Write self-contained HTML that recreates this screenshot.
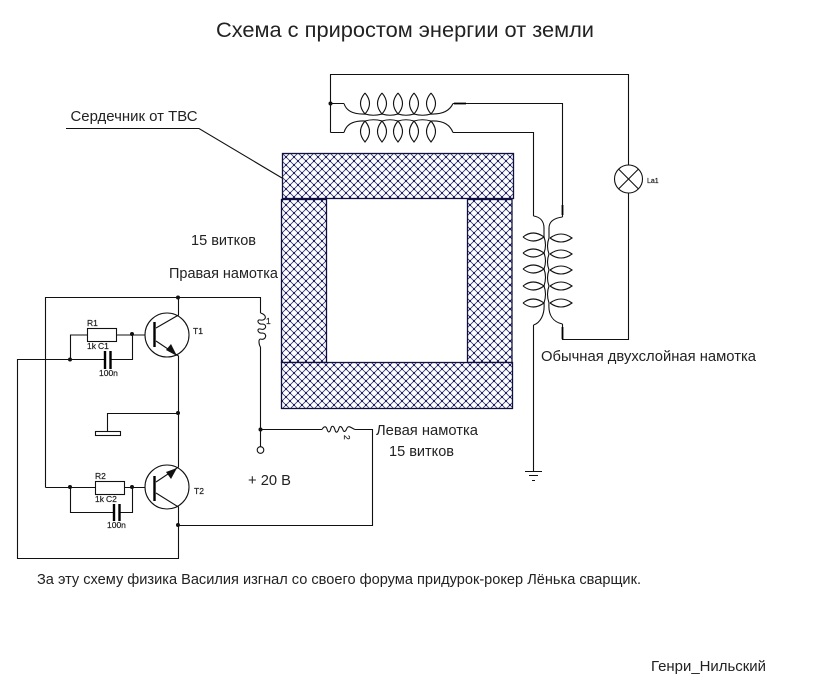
<!DOCTYPE html>
<html><head><meta charset="utf-8"><style>html,body{margin:0;padding:0;background:#fff}svg{display:block}text{font-family:"Liberation Sans",sans-serif;fill:#222}</style></head><body>
<svg xmlns="http://www.w3.org/2000/svg" width="827" height="691" viewBox="0 0 827 691">
<defs>
<pattern id="h" width="8" height="8" patternUnits="userSpaceOnUse" patternTransform="translate(282 153)">
<rect width="8" height="8" fill="#fff"/>
<path d="M0 0L8 8M8 0L0 8" stroke="#3a3a78" stroke-width="0.8"/>
<rect x="3.200" y="3.200" width="1.600" height="1.600" fill="#000050"/>
<rect x="-0.800" y="-0.800" width="1.600" height="1.600" fill="#000050"/><rect x="7.200" y="-0.800" width="1.600" height="1.600" fill="#000050"/><rect x="-0.800" y="7.200" width="1.600" height="1.600" fill="#000050"/><rect x="7.200" y="7.200" width="1.600" height="1.600" fill="#000050"/>
</pattern>
</defs>
<g fill="url(#h)" stroke="#101040" stroke-width="1.3">
<rect x="281.500" y="199.500" width="45" height="163"/>
<rect x="467.500" y="199.500" width="44.500" height="163"/>
<rect x="282.500" y="153.500" width="231" height="45"/>
<rect x="281.500" y="362.500" width="231" height="46"/>
</g>
<g fill="none" stroke="#111" stroke-width="1.1">
<path d="M66 128.500H199L282 178"/>
<path d="M45.500 487.500V297.500H260.500V313M260.500 347V446.500M260.500 429.500H322M355 429.500H372.500V525.500H178.500"/>
<path d="M178.500 297.500V315L156 328M156 341L178.500 356V467L156 482M156 493L178.500 507V558.500H17.500V359.500H104M111 359.500H132.500V335"/>
<path d="M145 335H117M87 335H70.500V359.500"/>
<path d="M145 487.500H124M95 487.500H45.500M70.500 487.500V512.500H113M119 512.500H132.500V487.500"/>
<circle cx="167" cy="335" r="22"/><circle cx="167" cy="487" r="22"/>
<path d="M178.500 413.500H107.500V431"/>
<rect x="95.500" y="431.500" width="25" height="4"/>
<rect x="87.500" y="328.500" width="29" height="13"/>
<rect x="95.500" y="481.500" width="29" height="13"/>
<circle cx="260.500" cy="450" r="3.300"/>
<path d="M260.500 313C268 315 266 321 260.500 320C256 319 258 325 262 324C268 324 266 331 260.500 329C256 328 258 334 262 333C268 333 266 341 260.500 339C258 339 259 345 260.500 347"/>
<path d="M322 429.500C324 426 326 426 327 429C328 433 330 433 331 428C332 425 334 426 335 430C336 434 338 432 339 428C340 425 342 427 343 430C344 433 346 431 347 428C349 425 351 428 355 429.500"/>
<path d="M330.500 132.500V74.500H628.500V165M628.500 193V339.500H562.500V324"/>
<circle cx="628.500" cy="179" r="14"/>
<path d="M618.500 169L638.500 189M638.500 169L618.500 189"/>
<path d="M330.500 103.500H344M453 103.500H562.500V217"/>
<path d="M330.500 132.500H344M453 132.500H533.500V216"/>
<path d="M533.500 325V471.500"/>
<path d="M525 471.500H542M529 475.500H538M532 480.500H535"/>
<path d="M344 103.500C346 110 352 114.500 365 114Q373.500 116.500 382 114Q390 116.500 398 114Q406 116.500 414 114Q422.500 116.500 431 114C444 114.500 450 110 453 103.500"/>
<path d="M344 132.500C346 125 352 120.500 365 121Q373.500 118.500 382 121Q390 118.500 398 121Q406 118.500 414 121Q422.500 118.500 431 121C444 120.500 450 125 453 132.500"/>
<path d="M365 93Q356 103.500 365 114Q374 103.500 365 93M382 93Q373 103.500 382 114Q391 103.500 382 93M398 93Q389 103.500 398 114Q407 103.500 398 93M414 93Q405 103.500 414 114Q423 103.500 414 93M431 93Q422 103.500 431 114Q440 103.500 431 93"/>
<path d="M365 121Q356 131.500 365 142Q374 131.500 365 121M382 121Q373 131.500 382 142Q391 131.500 382 121M398 121Q389 131.500 398 142Q407 131.500 398 121M414 121Q405 131.500 414 142Q423 131.500 414 121M431 121Q422 131.500 431 142Q440 131.500 431 121"/>
<path d="M533.500 216C540 217 544 221 544 228V237Q547 245 544 253Q547 261 544 269Q547 277 544 286Q547 294 544 303C545 315 540 323 533.500 325"/>
<path d="M562.500 217C555 218 549 221 549 228V238Q546 246 549 254Q546 262 549 270Q546 278 549 286Q546 294 549 303C548 315 553 322 562.500 324"/>
<path d="M523 237Q533 229 544 237Q533 245 523 237M523 253Q533 245 544 253Q533 261 523 253M523 269Q533 261 544 269Q533 277 523 269M523 286Q533 278 544 286Q533 294 523 286M523 303Q533 295 544 303Q533 311 523 303"/>
<path d="M550 238Q561 230 572 238Q561 246 550 238M550 254Q561 246 572 254Q561 262 550 254M550 270Q561 262 572 270Q561 278 550 270M550 286Q561 278 572 286Q561 294 550 286M550 303Q561 295 572 303Q561 311 550 303"/>
</g>
<g stroke="#000" fill="none" stroke-width="2.400">
<path d="M154.500 322V347M154.500 476V501"/>
<path d="M562.500 205V215M562.500 327V339" stroke-width="1.800"/>
<path d="M105 351V369M110.500 351V369M114 504V521M119.500 504V521"/>
<path d="M454 103.500H466" stroke-width="1.800"/>
</g>
<g fill="#111">
<path d="M177 356L166 350L171 344Z"/>
<path d="M177 468L166 472L171 479Z"/>
<circle cx="178" cy="297.500" r="2"/><circle cx="132" cy="334" r="2"/><circle cx="70" cy="359.500" r="2"/>
<circle cx="178" cy="413" r="2"/><circle cx="260.500" cy="429.500" r="2"/><circle cx="70" cy="487" r="2"/>
<circle cx="132" cy="487" r="2"/><circle cx="178" cy="525" r="2"/><circle cx="330.500" cy="103.500" r="2"/>
</g>
<text x="216" y="37" font-size="21" textLength="378" lengthAdjust="spacingAndGlyphs">Схема с приростом энергии от земли</text>
<g font-size="15">
<text x="70.500" y="121" textLength="127" lengthAdjust="spacingAndGlyphs">Сердечник от ТВС</text>
<text x="191" y="245" textLength="65" lengthAdjust="spacingAndGlyphs">15 витков</text>
<text x="169" y="278" textLength="109" lengthAdjust="spacingAndGlyphs">Правая намотка</text>
<text x="541" y="361" textLength="215" lengthAdjust="spacingAndGlyphs">Обычная двухслойная намотка</text>
<text x="376" y="435" textLength="102" lengthAdjust="spacingAndGlyphs">Левая намотка</text>
<text x="389" y="456" textLength="65" lengthAdjust="spacingAndGlyphs">15 витков</text>
<text x="248" y="485" textLength="43" lengthAdjust="spacingAndGlyphs">+ 20 В</text>
<text x="37" y="584" textLength="604" lengthAdjust="spacingAndGlyphs">За эту схему физика Василия изгнал со своего форума придурок-рокер Лёнька сварщик.</text>
<text x="651" y="671" textLength="115" lengthAdjust="spacingAndGlyphs">Генри_Нильский</text>
</g>
<g font-size="8.500" stroke="#222" stroke-width="0.200">
<text x="87" y="326">R1</text><text x="87" y="349">1k</text><text x="98" y="349">C1</text><text x="99" y="376">100n</text>
<text x="193" y="334">T1</text><text x="194" y="494">T2</text>
<text x="95" y="479">R2</text><text x="95" y="502">1k</text><text x="106" y="502">C2</text><text x="107" y="528">100n</text>
<text x="266" y="324">1</text><text x="647" y="183" font-size="7">La1</text>
<text transform="translate(344 435) rotate(90)">2</text>
</g>
</svg>
</body></html>
